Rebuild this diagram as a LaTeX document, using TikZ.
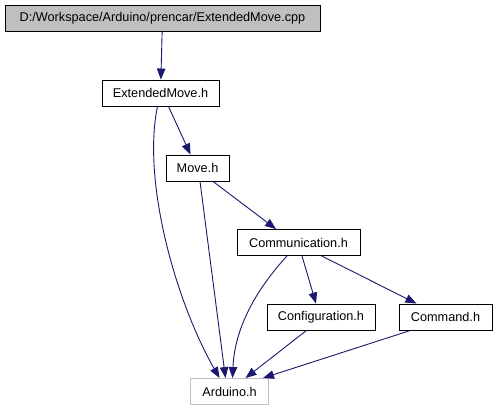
\documentclass[tikz,border=0pt]{standalone}
\usepackage{fontspec}
\setmainfont{Liberation Sans}
\usetikzlibrary{arrows.meta}
\definecolor{edgeblue}{RGB}{25, 25, 112}
\definecolor{boxgray}{RGB}{191, 191, 191}

\begin{document}
\begin{tikzpicture}[
      x=1pt, y=1pt,
      font=\fontsize{12.7}{15}\selectfont,
      >={Triangle[length=11pt, width=8.5pt]},
      file/.style={rectangle, draw=black, line width=0.9pt, inner sep=0pt,
                   minimum height=26pt, fill=white},
      root/.style={file, fill=boxgray},
      extern/.style={file, draw=boxgray},
      edge/.style={->, line width=0.9pt, draw=edgeblue}
  ]
  \useasboundingbox (0,0) rectangle (496,-411);

  \node[root, minimum width=315pt]   (cpp)  at (162.5,-18)  {D:/Workspace/Arduino/prencar/ExtendedMove.cpp};
  \node[file, minimum width=117pt]   (em)   at (160.5,-93)  {ExtendedMove.h};
  \node[file, minimum width=63pt]    (mv)   at (197.5,-168) {Move.h};
  \node[file, minimum width=123pt]   (comm) at (298.5,-242.5) {Communication.h};
  \node[file, minimum width=108pt]   (conf) at (321,-317)   {Configuration.h};
  \node[file, minimum width=93pt]    (cmd)  at (445.5,-317) {Command.h};
  \node[extern, minimum width=78pt]  (ard)  at (229.5,-391.5) {Arduino.h};

  \draw[edge] (cpp) -- (em);
  \draw[edge] ([xshift=8pt]em.south) -- ([xshift=-7pt]mv.north);
  \draw[edge] ([xshift=-3pt]em.south) .. controls (142,-180) and (175,-300) .. ([xshift=-10pt]ard.north);
  \draw[edge] ([xshift=2.5pt]mv.south) -- ([xshift=-4pt]ard.north);
  \draw[edge] ([xshift=15.5pt]mv.south) -- ([xshift=-22.5pt]comm.north);

  % Communication.h fans out
  \draw[edge] ([xshift=-11.5pt]comm.south) .. controls (265,-280) and (235,-320) .. ([xshift=3pt]ard.north);
  \draw[edge] ([xshift=3.5pt]comm.south) -- ([xshift=-5pt]conf.north);
  \draw[edge] ([xshift=23pt]comm.south) -- ([xshift=-29pt]cmd.north);

  \draw[edge] ([xshift=-14.5pt]conf.south) -- ([xshift=16pt]ard.north);
  \draw[edge] ([xshift=-35pt]cmd.south) -- ([xshift=33.5pt]ard.north);
\end{tikzpicture}
\end{document}
